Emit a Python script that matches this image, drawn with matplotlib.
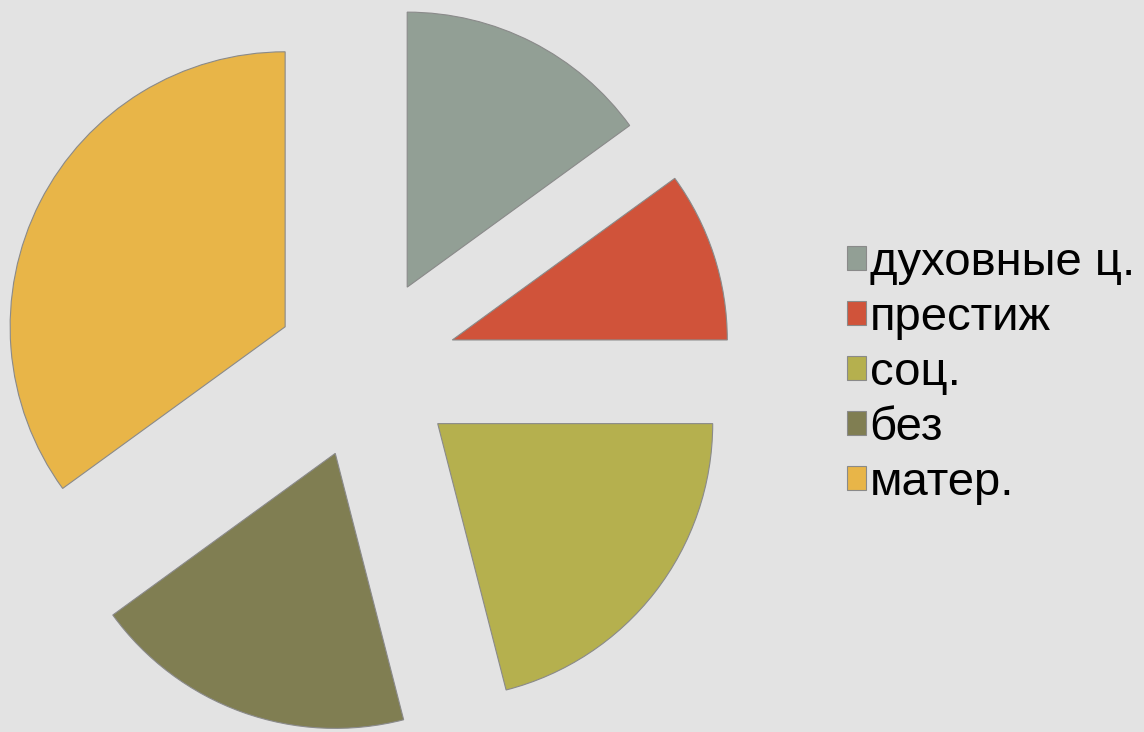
import matplotlib
matplotlib.use("Agg")
import matplotlib.pyplot as plt

labels = ["духовные ц.", "престиж", "соц.", "без", "матер."]
values = [15, 10, 21, 19, 35]
colors = ["#929f95", "#d0533a", "#b5b04e", "#807e52", "#e8b548"]

W, H, DPI = 1144, 732, 100
fig = plt.figure(figsize=(W / DPI, H / DPI), dpi=DPI)
fig.patch.set_facecolor("#e3e3e3")
ax = fig.add_axes([0, 0, 1, 1])
ax.set_facecolor("#e3e3e3")

R = 275.0
cx, cy = 366.0, 368.0
wedges, _ = ax.pie(values, colors=colors, startangle=90, counterclock=False,
                   explode=[0.33] * len(values), radius=1.0,
                   wedgeprops=dict(edgecolor="#8a8a8a", linewidth=0.8))
ax.set_xlim(-cx / R, (W - cx) / R)
ax.set_ylim(-(H - cy) / R, cy / R)
ax.set_aspect("equal")
ax.axis("off")

leg = fig.legend(wedges, labels, loc="center left",
                 bbox_to_anchor=(847 / W, 1 - 373 / H),
                 frameon=False, borderpad=0, borderaxespad=0,
                 handlelength=0.4, handleheight=0.4, handletextpad=0.08,
                 labelspacing=0.23,
                 prop=dict(family="Liberation Sans", size=34))

fig.savefig("out.png", dpi=DPI, facecolor=fig.get_facecolor())
